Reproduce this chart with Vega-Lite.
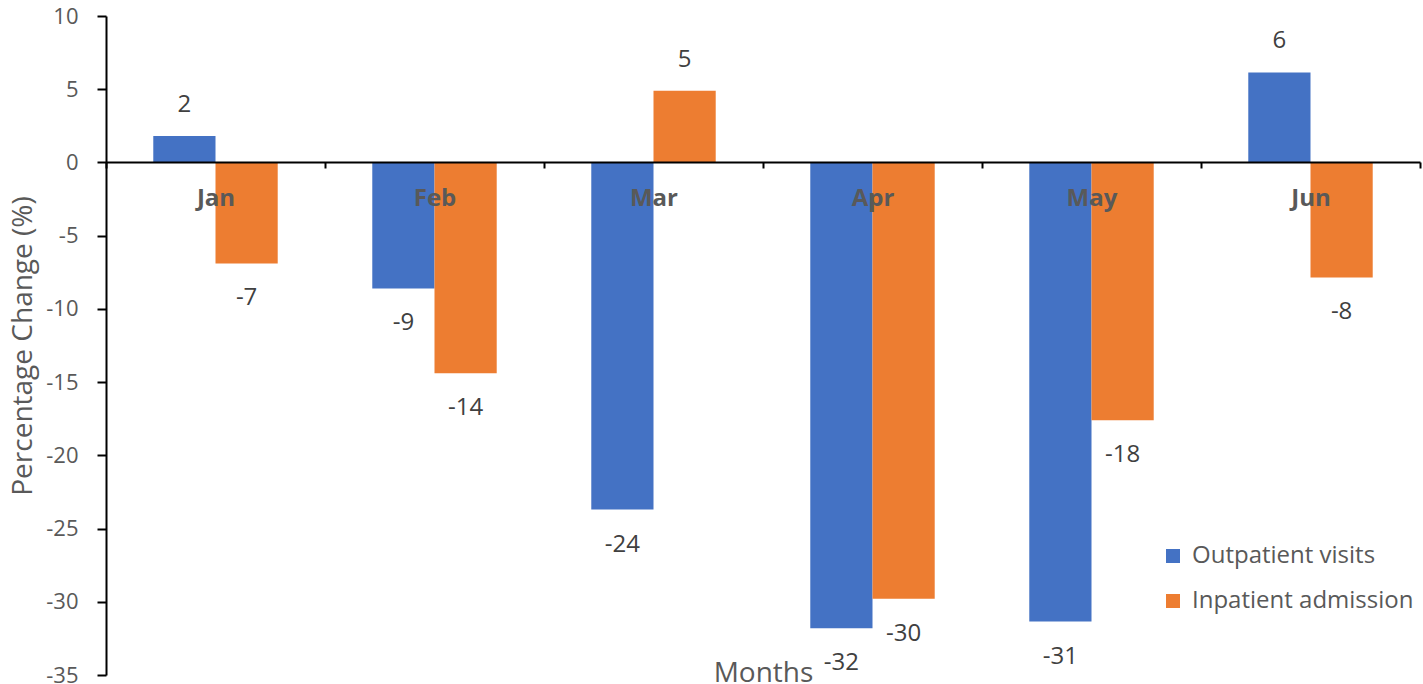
{
  "$schema": "https://vega.github.io/schema/vega-lite/v6.json",
  "width": 1314,
  "height": 659,
  "autosize": "none",
  "padding": {"left": 106, "top": 16, "right": 3, "bottom": 9},
  "background": "white",
  "config": {
    "view": {"stroke": null},
    "font": "Open Sans",
    "locale": {
      "number": {"decimal": ".", "thousands": ",", "grouping": [3], "currency": ["$", ""], "minus": "-"}
    }
  },
  "data": {
    "values": [
      {"month": "Jan", "series": "Outpatient visits", "value": 1.8},
      {"month": "Jan", "series": "Inpatient admission", "value": -6.9},
      {"month": "Feb", "series": "Outpatient visits", "value": -8.6},
      {"month": "Feb", "series": "Inpatient admission", "value": -14.4},
      {"month": "Mar", "series": "Outpatient visits", "value": -23.7},
      {"month": "Mar", "series": "Inpatient admission", "value": 4.9},
      {"month": "Apr", "series": "Outpatient visits", "value": -31.8},
      {"month": "Apr", "series": "Inpatient admission", "value": -29.8},
      {"month": "May", "series": "Outpatient visits", "value": -31.35},
      {"month": "May", "series": "Inpatient admission", "value": -17.6},
      {"month": "Jun", "series": "Outpatient visits", "value": 6.15},
      {"month": "Jun", "series": "Inpatient admission", "value": -7.85}
    ]
  },
  "encoding": {
    "x": {
      "field": "month",
      "type": "nominal",
      "sort": ["Jan", "Feb", "Mar", "Apr", "May", "Jun"],
      "scale": {"paddingInner": 0, "paddingOuter": 0},
      "axis": {
        "orient": "bottom",
        "offset": -513,
        "zindex": 1,
        "domain": true,
        "domainColor": "black",
        "domainWidth": 2,
        "ticks": true,
        "tickBand": "extent",
        "tickColor": "black",
        "tickWidth": 2,
        "tickSize": 6,
        "labelAngle": 0,
        "labelFont": "Open Sans",
        "labelFontSize": 24,
        "labelFontWeight": "bold",
        "labelColor": "#595959",
        "labelPadding": 18,
        "title": "Months",
        "titleFont": "Open Sans",
        "titleFontSize": 28,
        "titleFontWeight": "normal",
        "titleColor": "#595959",
        "titleBaseline": "alphabetic",
        "titleY": 519,
        "grid": false
      }
    },
    "xOffset": {
      "field": "series",
      "type": "nominal",
      "sort": ["Outpatient visits", "Inpatient admission"],
      "scale": {"paddingInner": 0, "paddingOuter": 0.76}
    },
    "y": {
      "field": "value",
      "type": "quantitative",
      "scale": {"domain": [-35, 10], "nice": false, "zero": false},
      "axis": {
        "values": [-35, -30, -25, -20, -15, -10, -5, 0, 5, 10],
        "grid": false,
        "domain": true,
        "domainColor": "black",
        "domainWidth": 2,
        "tickColor": "black",
        "tickWidth": 2,
        "tickSize": 9,
        "labelPadding": 19,
        "labelFont": "Open Sans",
        "labelFontSize": 22,
        "labelColor": "#595959",
        "title": "Percentage Change (%)",
        "titleFont": "Open Sans",
        "titleFontSize": 28,
        "titleFontWeight": "normal",
        "titleColor": "#595959",
        "titlePadding": 8
      }
    }
  },
  "layer": [
    {
      "mark": {"type": "bar", "stroke": null},
      "encoding": {
        "color": {
          "field": "series",
          "type": "nominal",
          "sort": ["Outpatient visits", "Inpatient admission"],
          "scale": {"domain": ["Outpatient visits", "Inpatient admission"], "range": ["#4472C4", "#ED7D31"]},
          "legend": {
            "title": null,
            "orient": "none",
            "legendX": 1055,
            "legendY": 528,
            "direction": "vertical",
            "symbolType": "square",
            "symbolSize": 196,
            "symbolStrokeWidth": 0,
            "labelFont": "Open Sans",
            "labelFontSize": 24,
            "labelColor": "#595959",
            "labelOffset": 7,
            "labelLimit": 400,
            "rowPadding": 21
          }
        }
      }
    },
    {
      "transform": [{"filter": "datum.value >= 0"}],
      "mark": {"type": "text", "dy": -31, "fontSize": 24, "color": "#404040", "font": "Open Sans", "baseline": "middle"},
      "encoding": {
        "text": {"field": "value", "type": "quantitative", "format": ".0f"}
      }
    },
    {
      "transform": [{"filter": "datum.value < 0"}],
      "mark": {"type": "text", "dy": 35, "fontSize": 24, "color": "#404040", "font": "Open Sans", "baseline": "middle"},
      "encoding": {
        "text": {"field": "value", "type": "quantitative", "format": ".0f"}
      }
    }
  ]
}
